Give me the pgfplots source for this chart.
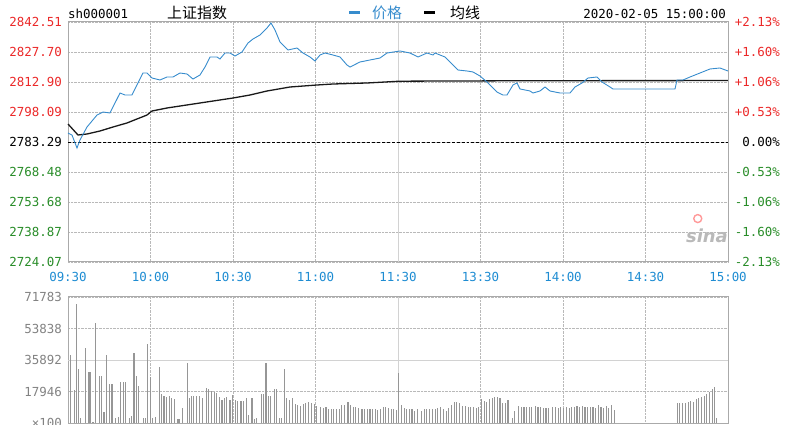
\documentclass[border=0pt]{standalone}
\usepackage{pgfplots}
\pgfplotsset{compat=1.18}
\usepackage{fontspec}
\newfontfamily\mono{DejaVu Sans Mono}
\newfontfamily\cjk{Noto Sans CJK SC}
\setsansfont{DejaVu Sans}
\definecolor{cred}{RGB}{235,40,40}
\definecolor{cgreen}{RGB}{40,140,40}
\definecolor{cblue}{RGB}{30,140,210}
\definecolor{pline}{RGB}{55,140,205}
\definecolor{vgray}{RGB}{130,130,130}
\definecolor{vbar}{RGB}{150,150,150}
\definecolor{frame}{RGB}{170,170,170}
\newcommand\tl[2]{\mbox{\textcolor{#1}{#2}}}
\begin{document}
\begin{tikzpicture}
\useasboundingbox (0,0) rectangle (792bp,425bp);
\pgfplotsset{
  chartbase/.style={
    scale only axis, width=660bp,
    xmin=0, xmax=240,
    xtick={0,30,...,240},
    major tick length=0pt,
    xmajorgrids, ymajorgrids,
    grid style={densely dotted, gray!55, line width=0.6pt},
    axis line style={frame, line width=1pt},
    ticklabel style={font=\mono\fontsize{12.5}{14}\selectfont},
    clip=false,
    extra x ticks={120}, extra x tick labels={},
    extra x tick style={grid style={solid, gray!35, line width=0.8pt}},
  }
}
% ---------------- price panel ----------------
\begin{axis}[chartbase,
  at={(68bp,163bp)}, anchor=south west, height=240bp,
  ymin=2724.07, ymax=2842.51,
  ytick={2724.07,2738.87,2753.68,2768.48,2783.29,2798.09,2812.90,2827.70,2842.51},
  yticklabels={\tl{cgreen}{2724.07},\tl{cgreen}{2738.87},\tl{cgreen}{2753.68},\tl{cgreen}{2768.48},\tl{black}{2783.29},\tl{cred}{2798.09},\tl{cred}{2812.90},\tl{cred}{2827.70},\tl{cred}{2842.51}},
  xticklabels={\tl{cblue}{09:30},\tl{cblue}{10:00},\tl{cblue}{10:30},\tl{cblue}{11:00},\tl{cblue}{11:30},\tl{cblue}{13:30},\tl{cblue}{14:00},\tl{cblue}{14:30},\tl{cblue}{15:00}},
  yticklabel style={anchor=east, inner sep=0pt, xshift=-6bp},
  xticklabel style={anchor=north, inner sep=0pt, yshift=-10bp},
]
\addplot[black, densely dashed, line width=0.8pt] coordinates {(0,2783.29) (240,2783.29)};
% average line
\addplot[black!90, line width=1.3pt] coordinates {
(0,2792.17) (3.64,2786.74) (6.91,2787.24) (11.64,2788.72) (16.36,2790.69)
(21.45,2792.67) (28.73,2796.61) (30.55,2798.59) (36,2800.07) (48,2802.54)
(60,2805.00) (66.18,2806.48) (72.36,2808.46) (80.73,2810.43) (90.55,2811.42)
(96.36,2811.91) (108.73,2812.41) (120.73,2813.30) (173.45,2813.55) (240,2813.60)
};
% price line
\addplot[pline, line width=0.9pt] coordinates {
(0,2787.73) (1.45,2786.74) (3.27,2780.33) (4.36,2784.28) (6.91,2790.69)
(10.55,2796.61) (12.73,2798.09) (15.27,2797.60) (18.91,2807.47) (20.73,2806.48)
(23.27,2806.48) (27.27,2817.34) (28.73,2817.34) (30.55,2814.87) (33.45,2813.89)
(36,2815.37) (38.18,2815.37) (40.73,2817.34) (43.27,2816.85) (45.45,2814.38)
(48,2816.36) (49.82,2820.30) (51.64,2825.24) (54.18,2825.24) (55.27,2824.25)
(57.09,2827.21) (58.91,2827.21) (60.73,2825.73) (63.27,2827.70) (65.45,2832.15)
(67.27,2834.12) (69.82,2836.10) (72.36,2839.55) (73.82,2842.02) (75.27,2838.56)
(77.09,2832.64) (80,2828.69) (83.27,2829.68) (85.45,2827.21) (88,2825.24)
(89.82,2823.26) (91.64,2826.22) (93.45,2827.21) (96.36,2826.22) (98.91,2825.24)
(101.45,2821.29) (102.55,2820.30) (106.18,2822.77) (109.82,2823.76) (113.45,2824.74)
(116,2827.21) (120.73,2828.20) (124.36,2827.21) (127.27,2825.24) (130.55,2827.21)
(132.73,2826.22) (133.45,2827.21) (137.09,2825.24) (138.91,2822.77) (141.82,2818.82)
(145.09,2818.33) (147.27,2817.84) (149.82,2815.86) (152.36,2812.90) (156,2807.96)
(158.18,2806.48) (159.64,2806.48) (161.82,2811.42) (163.27,2812.41) (164.36,2809.45)
(168,2808.46) (169.09,2807.47) (171.64,2808.46) (173.45,2810.43) (175.27,2808.46)
(178.91,2807.47) (182.55,2807.47) (184.36,2810.43) (186.91,2812.41) (189.09,2814.87)
(192.36,2815.37) (194.18,2812.90) (197.09,2810.43) (198.18,2809.45) (220.73,2809.45)
(221.45,2813.89) (223.64,2813.89) (226.18,2815.37) (229.82,2817.34) (233.45,2819.32)
(237.09,2819.81) (240,2818.33)
};
\node[font=\sffamily\bfseries\itshape\fontsize{18}{18}\selectfont, text=gray!55, anchor=east, inner sep=0pt] at (rel axis cs:1,0.11) {sina};
\draw[red!40, line width=1.4pt] (axis cs:229,2745.5) circle (4bp);
\end{axis}
% right-hand percent labels
\begin{axis}[chartbase,
  at={(68bp,163bp)}, anchor=south west, height=240bp,
  ymin=2724.07, ymax=2842.51,
  axis y line*=right, axis x line=none,
  xmajorgrids=false, ymajorgrids=false, extra x ticks={},
  ytick={2724.07,2738.87,2753.68,2768.48,2783.29,2798.09,2812.90,2827.70,2842.51},
  yticklabels={\tl{cgreen}{-2.13\%},\tl{cgreen}{-1.60\%},\tl{cgreen}{-1.06\%},\tl{cgreen}{-0.53\%},\tl{black}{0.00\%},\tl{cred}{+0.53\%},\tl{cred}{+1.06\%},\tl{cred}{+1.60\%},\tl{cred}{+2.13\%}},
  yticklabel style={anchor=east, inner sep=0pt, xshift=52bp},
]
\addplot[draw=none] coordinates {(0,2783.29)};
\end{axis}
% ---------------- volume panel ----------------
\begin{axis}[chartbase,
  at={(68bp,2bp)}, anchor=south west, height=126bp,
  ymin=0, ymax=71783,
  ytick={0,17946,53838,71783},
  yticklabels={\tl{vgray}{×100},\tl{vgray}{17946},\tl{vgray}{53838},\tl{vgray}{71783}},
  extra y ticks={35892}, extra y tick labels={\tl{vgray}{35892}},
  extra y tick style={grid style={solid, gray!35, line width=0.8pt}},
  xticklabels={},
  yticklabel style={anchor=east, inner sep=0pt, xshift=-6bp},
  scaled y ticks=false,
]
\addplot[ycomb, vbar, line width=1.1pt] coordinates {
(1.0,39000) (2.2,19000) (3.2,68000) (3.9,31000) (4.7,2700) (6.3,42700) (7.3,29000) (8.0,29000) (9.1,800)
(10.1,57000) (11.3,26500) (12.3,26500) (13.1,6500) (14.1,38500) (15.0,22000) (16.0,22000) (17.3,3000)
(18.2,3500) (19.2,23400) (20.1,23400) (21.0,23400) (22.2,2700) (23.2,4000) (24.0,39800) (25.0,26900)
(25.8,21000) (27.3,3000) (28.1,3000) (29.0,45000) (29.9,26000) (30.8,2700) (31.7,3600) (33.2,32000)
(34.1,16400) (34.9,15400) (35.9,15000) (36.8,15600) (37.8,14000) (38.8,13700) (40.0,2000) (40.7,2000)
(41.7,8400) (43.3,34000) (44.1,14000) (45.0,15400) (45.8,15400) (46.8,15400) (47.7,15400) (49.0,14000)
(50.2,19800) (51.2,19200) (52.1,18300) (53.2,17900) (54.1,17300) (55.0,14700) (56.0,13100) (56.8,14000)
(57.7,14700) (58.9,13100) (59.9,16000) (60.8,13100) (61.8,12800) (62.9,12800) (63.9,12800) (65.0,14000)
(65.7,4600) (66.9,14000) (67.7,2000) (68.6,2700) (70.2,16400) (71.0,16400) (72.0,34000) (72.8,15400)
(73.8,15400) (75.0,19200) (75.9,19200) (76.8,2700) (77.8,2700) (78.7,30700) (79.5,14000) (80.5,13300)
(81.7,14000) (82.6,10900) (83.6,10300) (84.6,9700) (85.6,10900) (86.5,11600) (87.5,12200) (88.5,11600)
(89.5,10900) (90.4,9700) (91.9,9000) (92.8,8400) (93.8,9300) (94.8,7800) (95.7,7800) (96.7,7800)
(97.7,7800) (98.6,7800) (99.6,10300) (100.6,10300) (101.8,12200) (102.8,10300) (103.7,9300) (104.7,9300)
(105.7,8400) (106.9,7800) (107.9,7800) (108.8,7800) (109.8,7800) (110.8,7800) (111.7,7800) (112.7,7400)
(113.7,7800) (114.7,9300) (115.6,9000) (116.6,8400) (117.5,8000) (118.3,7800) (119.3,7400) (120.2,28400)
(121.2,10300) (122.2,8400) (123.2,7800) (124.1,7800) (125.1,7800) (126.1,7000) (127.0,7800) (128.6,7000)
(129.6,7800) (130.5,7800) (131.5,7800) (132.5,7800) (133.7,7800) (134.5,8400) (135.5,9300) (136.5,7800)
(137.5,7000) (138.4,8400) (139.5,10300) (140.5,12200) (141.3,12200) (142.3,11200) (143.3,9700) (144.5,9700)
(145.5,9300) (146.4,9300) (147.4,9000) (148.4,8400) (149.3,9300) (150.3,13500) (151.3,12800) (152.3,12200)
(153.2,13500) (154.2,14000) (155.2,14700) (156.1,15000) (157.1,14000) (158.1,11600) (159.0,11200) (160.0,13100)
(161.5,2700) (162.4,7000) (163.9,9700) (164.8,9000) (165.8,9000) (166.8,9300) (167.7,9000) (168.7,9300)
(169.9,9700) (170.9,9300) (171.9,9000) (172.8,8400) (173.8,8400) (174.8,8400) (176.2,9300) (177.2,9000)
(178.2,8400) (179.2,9000) (180.2,8400) (181.2,9000) (182.2,8400) (183.2,9300) (184.1,9300) (185.1,9700)
(186.1,9000) (187.0,9700) (188.0,9300) (189.0,9300) (189.9,9000) (190.9,9300) (191.9,8400) (192.8,10300)
(193.8,9000) (194.8,8400) (195.7,9700) (196.7,8400) (197.7,10300) (198.7,7400)
(221.6,11200) (222.5,11200) (223.5,11200) (224.5,11600) (225.5,12200) (226.4,12800) (227.4,12200)
(228.4,13500) (229.3,14000) (230.3,14700) (231.3,15400) (232.2,16600) (233.2,17900) (234.2,19200)
(235.2,20400) (235.9,2700)
};
\end{axis}
% ---------------- header ----------------
\node[anchor=west, inner sep=0pt, font=\mono\fontsize{12.5}{14}\selectfont] at (68bp,411bp) {sh000001};
\node[anchor=west, inner sep=0pt, font=\cjk\fontsize{15}{17}\selectfont] at (167bp,412bp) {上证指数};
\draw[pline, line width=2.5pt] (349bp,412.5bp) -- (360bp,412.5bp);
\node[anchor=west, inner sep=0pt, text=pline, font=\cjk\fontsize{15}{17}\selectfont] at (372bp,412bp) {价格};
\draw[black, line width=2.5pt] (424bp,412.5bp) -- (435bp,412.5bp);
\node[anchor=west, inner sep=0pt, font=\cjk\fontsize{15}{17}\selectfont] at (450bp,412bp) {均线};
\node[anchor=east, inner sep=0pt, font=\mono\fontsize{12.5}{14}\selectfont] at (726bp,411bp) {2020-02-05 15:00:00};
\end{tikzpicture}
\end{document}
